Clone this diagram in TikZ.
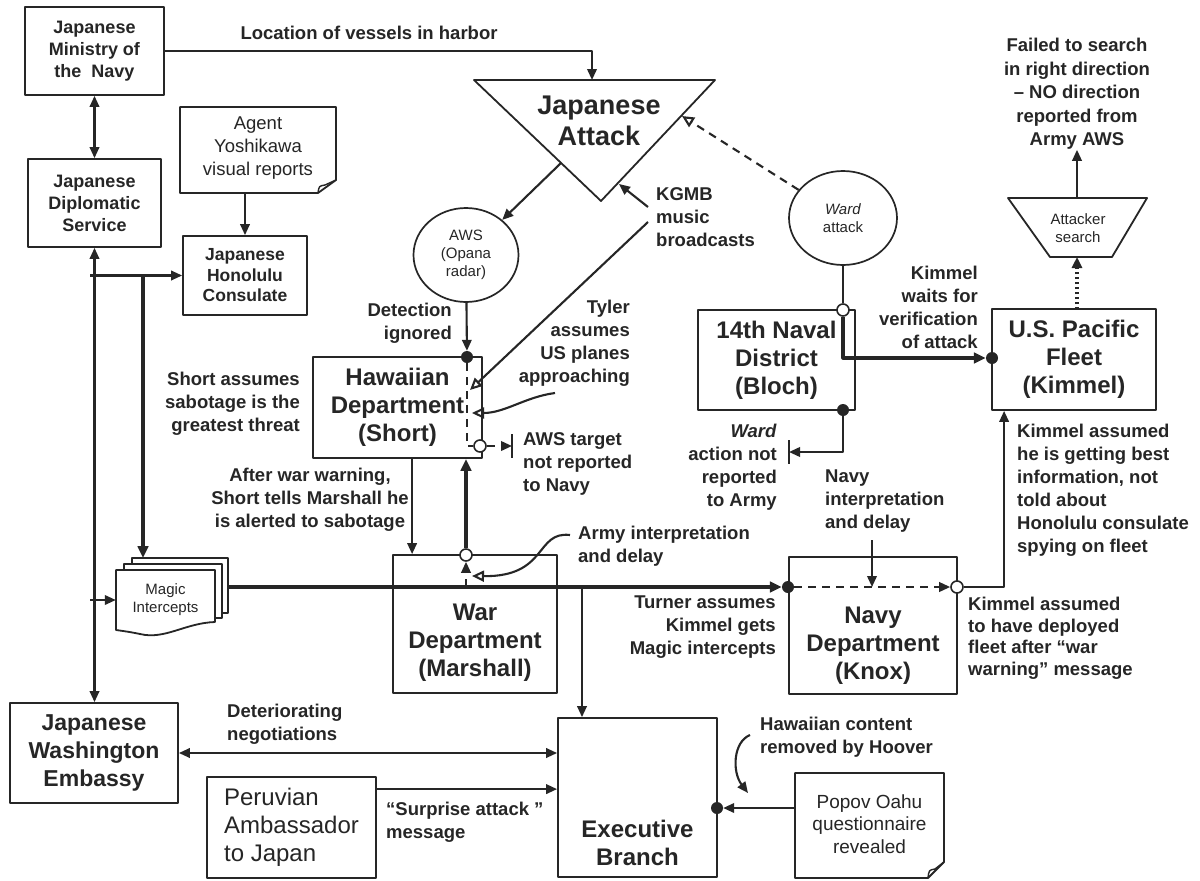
\documentclass[tikz,border=0pt]{standalone}
\usepackage{fontspec}
\setmainfont{Liberation Sans}
\usetikzlibrary{arrows.meta,calc,shapes.geometric}
\definecolor{ink}{HTML}{262626}
\newcommand{\fsz}[2]{\fontsize{#1}{#2}\selectfont}

\tikzset{
  box/.style={draw=ink, line width=1.8pt, fill=white, align=center, inner sep=0pt},
  lbl/.style={align=center, inner sep=0pt},
  smallbold/.style={font=\fsz{18}{22}\bfseries},
  bigbold/.style={font=\fsz{24}{28}\bfseries},
  ann/.style={inner sep=0pt, font=\fsz{18.5}{23}\bfseries},
  smallreg/.style={font=\fsz{15}{18}},
  conn/.style={draw=ink, line width=2.1pt},
  heavyln/.style={draw=ink, line width=3.2pt},
  arr/.style={conn, -{Triangle[length=11pt,width=9.5pt]}},
  darr/.style={conn, {Triangle[length=11pt,width=9.5pt]}-{Triangle[length=11pt,width=9.5pt]}},
  harr/.style={heavyln, -{Triangle[length=12pt,width=10.5pt]}},
  oarr/.style={conn, -{Triangle[open,length=12pt,width=11pt]}},
  dashln/.style={dash pattern=on 8pt off 6pt},
  dotln/.style={draw=ink, line width=3.4pt, dash pattern=on 2.5pt off 2.5pt},
  fdot/.style={circle, fill=ink, inner sep=0pt, minimum size=12pt},
  odot/.style={circle, draw=ink, fill=white, line width=1.6pt, inner sep=0pt, minimum size=12pt},
  barln/.style={draw=ink, line width=2.1pt},
  shapeln/.style={draw=ink, line width=1.8pt, fill=white},
}

\begin{document}
\begin{tikzpicture}[x=1pt, y=-1pt, color=ink, line join=round]
\useasboundingbox (0,0) rectangle (1200,881);
\fill[white] (0,0) rectangle (1200,881);

% ---------------- Japanese side ----------------
\node[box, smallbold, minimum width=139pt, minimum height=88pt] (ministry) at (94.5,51) {Japanese\\Ministry of\\the~~Navy};
\node[box, smallbold, minimum width=133pt, minimum height=88pt] (diplo) at (94.5,203) {Japanese\\Diplomatic\\Service};
\node[box, smallbold, minimum width=124pt, minimum height=79pt, font=\fsz{17.5}{20.5}\bfseries] (consul) at (245,275.5) {Japanese\\Honolulu\\Consulate};

% agent note with a curled corner
\draw[shapeln] (180,107) -- (336,107) -- (336,180) -- (318,193) -- (180,193) -- cycle;
\draw[line width=1.4pt] (318,193) .. controls (319,186) .. (325,185) -- (336,180);
\node[lbl, font=\fsz{18.5}{23}] (yoshi) at (258,148) {Agent\\Yoshikawa\\visual reports};
\coordinate (yoshiB) at (258,193);

\node[box, font=\fsz{23}{28}\bfseries, minimum width=168pt, minimum height=100pt] (embassy) at (94,753) {Japanese\\Washington\\Embassy};

% Japanese attack (inverted triangle)
\draw[shapeln] (474,80) -- (715,80) -- (601,201) -- cycle;
\node[lbl, font=\fsz{27}{30.5}\bfseries] (attack) at (599,121) {Japanese\\Attack};
\coordinate (atkTop) at (592,80);
\coordinate (atkL) at (561,163);
\coordinate (atkR) at (682,116);
\coordinate (atkK) at (619,184);

% sensors
\node[draw=ink, line width=1.7pt, fill=white, ellipse, minimum width=105pt, minimum height=94pt, inner sep=0pt, align=center, smallreg] (aws) at (466,255) {AWS\\(Opana\\radar)};
\node[draw=ink, line width=1.7pt, fill=white, ellipse, minimum width=108pt, minimum height=94pt, inner sep=0pt, align=center, smallreg] (ward) at (843,218) {\textit{Ward}\\attack};

% ---------------- commands ----------------
\node[box, bigbold, minimum width=169pt, minimum height=101pt] (hawaii) at (397.5,407.5) {Hawaiian\\Department\\(Short)};
\node[box, bigbold, minimum width=157pt, minimum height=100pt] (naval) at (776.5,360) {14th Naval\\District\\(Bloch)};
\node[box, bigbold, minimum width=164pt, minimum height=101pt] (fleet) at (1074,359.5) {U.S. Pacific\\Fleet\\(Kimmel)};

% attacker search trapezoid
\draw[shapeln] (1008,198) -- (1147,198) -- (1112,257) -- (1050,257) -- cycle;
\node[lbl, smallreg] (search) at (1078,228) {Attacker\\search};
\coordinate (searchTop) at (1077,198);
\coordinate (searchBot) at (1077,257);
\coordinate (fleetTop) at (1077,309);

% Washington
\node[box, minimum width=164pt, minimum height=138pt] (war) at (475,624) {};
\node[lbl, bigbold] (warT) at (475,643) {War\\Department\\(Marshall)};
\node[box, minimum width=168pt, minimum height=137pt] (navy) at (873,625.5) {};
\node[lbl, bigbold] (navyT) at (873,646) {Navy\\Department\\(Knox)};
\node[box, minimum width=159pt, minimum height=159pt] (exec) at (637.5,797.5) {};
\node[lbl, bigbold] (execT) at (637.5,843) {Executive\\Branch};

\node[box, align=left, font=\fsz{24}{28}, minimum width=169pt, minimum height=101pt] (peru) at (291.5,827.5) {Peruvian\\Ambassador\\to Japan};

% Popov note with a curled corner
\draw[shapeln] (795,773) -- (944,773) -- (944,862) -- (928,878) -- (795,878) -- cycle;
\draw[line width=1.4pt] (928,878) .. controls (929,870) .. (935,869) -- (944,862);
\node[lbl, font=\fsz{19}{22.5}] (popov) at (869.5,824) {Popov Oahu\\questionnaire\\revealed};
\coordinate (popovW) at (795,808);

% Magic intercepts: stacked pages
\draw[shapeln] (132,558) rectangle (228,613);
\draw[shapeln] (124,564) rectangle (222,618);
\draw[shapeln] (116,570) -- (215,570) -- (215,622) .. controls (185,623) and (165,640) .. (140,634) .. controls (130,632) .. (116,630) -- cycle;
\node[lbl, smallreg, minimum width=99pt, minimum height=60pt] (magic) at (165.5,600) {Magic\\Intercepts};
\coordinate (magTop) at (143,558);
\coordinate (magR) at (228,587);

% ---------------- annotations ----------------
\node[ann] (loc) at (369,33) {Location of vessels in harbor};
\node[ann, anchor=east, align=right] (detect) at (452,323) {Detection\\ignored};
\node[ann, anchor=west, align=left] (kgmb) at (656,217) {KGMB\\music\\broadcasts};
\node[ann, anchor=east, align=right] (tyler) at (630,343) {Tyler\\assumes\\US planes\\approaching};
\node[ann, anchor=east, align=right] (shortA) at (300,404) {Short assumes\\sabotage is the\\greatest threat};
\node[ann, align=center] (after) at (310,500) {After war warning,\\Short tells Marshall he\\is alerted to sabotage};
\node[ann, anchor=west, align=left] (awsT) at (523,464) {AWS target\\not reported\\to Navy};
\node[ann, anchor=west, align=left] (armyI) at (578,546) {Army interpretation\\and delay};
\node[ann, anchor=east, align=right] (wardA) at (777,467) {\textit{Ward}\\action not\\reported\\to Army};
\node[ann, anchor=east, align=right] (kwait) at (978,307) {Kimmel\\waits for\\verification\\of attack};
\node[ann, anchor=west, align=left] (navyI) at (825,501) {Navy\\interpretation\\and delay};
\node[ann, anchor=west, align=left] (kbest) at (1017,490) {Kimmel assumed\\he is getting best\\information, not\\told about\\Honolulu consulate\\spying on fleet};
\node[ann, anchor=east, align=right] (turner) at (776,627) {Turner assumes\\Kimmel gets\\Magic intercepts};
\node[ann, anchor=west, align=left, font=\fsz{18.5}{21.5}\bfseries] (kdep) at (968,638) {Kimmel assumed\\to have deployed\\fleet after “war\\warning” message};
\node[ann, anchor=west, align=left] (deter) at (227,724) {Deteriorating\\negotiations};
\node[ann, anchor=west, align=left] (surp) at (386,822) {“Surprise attack ”\\message};
\node[ann, anchor=west, align=left] (hoover) at (760,737) {Hawaiian content\\removed by Hoover};
\node[ann, align=center, font=\fsz{18.5}{23.5}\bfseries] (fail) at (1077,94) {Failed to search\\in right direction\\– NO direction\\reported from\\Army AWS};

% ---------------- connectors: Japanese side ----------------
\draw[arr] (ministry.east) -| (atkTop);
\draw[darr] (ministry.south) -- (diplo.north);
\draw[darr] (diplo.south) -- (diplo.south |- embassy.north);
\coordinate (jCon) at (90,275.5);
\coordinate (jMag) at (143,275.5);
\coordinate (jInt) at (90,600);
\draw[arr] (jCon) -- (consul.west);
\draw[harr] (jMag) -- (magTop);
\draw[arr] (jInt) -- (magic.west);
\draw[arr] (consul.north |- yoshiB) -- (consul.north);

% attack and radar
\draw[arr] (atkL) -- (aws);
\node[fdot] (dHaw) at (467,357) {};
\draw[arr] (aws) -- (dHaw);
\node[odot] (oHaw) at (480,446) {};
\draw[conn, dashln] (dHaw) |- (oHaw);
\coordinate (barA) at (512,446);
\draw[arr, dashln] (oHaw) -- (barA);
\draw[barln] ([yshift=12pt]barA) -- ([yshift=-12pt]barA);

% KGMB broadcasts
\coordinate (kg1) at (648,207);
\coordinate (kg2) at (648,222);
\coordinate (tylerTip) at (470,390);
\draw[arr] (kg1) -- (atkK);
\draw[oarr] (kg2) -- (tylerTip);
\coordinate (tyStart) at (555,393);
\coordinate (tyTip) at (472,413);
\draw[oarr] (tyStart) .. controls (525,397) and (505,413) .. (tyTip);

% Hawaii <-> War Department
\draw[arr] ($(hawaii.south west)+(100,0)$) -- ($(war.north west)+(20,0)$);
\node[odot] (oWar) at (466,555) {};
\draw[harr] (oWar) -- (oWar |- hawaii.south);
\coordinate (jWar) at (466,587);
\draw[arr, dashln] (jWar) -- (oWar);
\coordinate (armStart) at (570,535);
\coordinate (armTip) at (472,576);
\draw[oarr] (armStart) .. controls (535,531) and (548,577) .. (armTip);

% Magic distribution
\node[fdot] (dNavy) at (788,587) {};
\draw[harr] (magR) -- (dNavy);
\coordinate (jExec) at (582,587);
\draw[arr] (jExec) -- (jExec |- exec.north);
\node[odot] (oNavy) at (957,587) {};
\draw[arr, dashln] (dNavy) -- (oNavy);
\coordinate (niTop) at (872,540);
\coordinate (niTip) at (872,587);
\draw[arr] (niTop) -- (niTip);
\coordinate (fleetIn) at ($(fleet.south west)+(13,0)$);
\draw[arr] (oNavy) -| (fleetIn);

% Ward and 14th Naval District
\draw[oarr, dashln] (ward) -- (atkR);
\node[odot] (o14) at (843,310) {};
\draw[conn] (ward) -- (o14);
\node[fdot] (dFleet) at (992,358) {};
\draw[harr] (o14) |- (dFleet);
\node[fdot] (d14) at (843,410) {};
\coordinate (barB) at (789,452);
\draw[arr] (d14) |- (barB);
\draw[barln] ([yshift=12pt]barB) -- ([yshift=-12pt]barB);

% fleet search
\draw[dotln, -{Triangle[length=11pt,width=10pt]}] (fleetTop) -- (searchBot);
\draw[arr] (searchTop) -- (fail.south);

% Executive branch inputs
\draw[darr] (embassy.east) -- (embassy.east -| exec.west);
\coordinate (peruOut) at ($(peru.north east)+(0,13)$);
\draw[arr] (peruOut) -- (peruOut -| exec.west);
\node[fdot] (dExec) at (717,808) {};
\draw[arr] (popovW) -- (dExec);
\coordinate (hvStart) at (750,735);
\coordinate (hvTip) at (748,793);
\draw[arr] (hvStart) .. controls (733,742) and (732,772) .. (hvTip);
\end{tikzpicture}
\end{document}
